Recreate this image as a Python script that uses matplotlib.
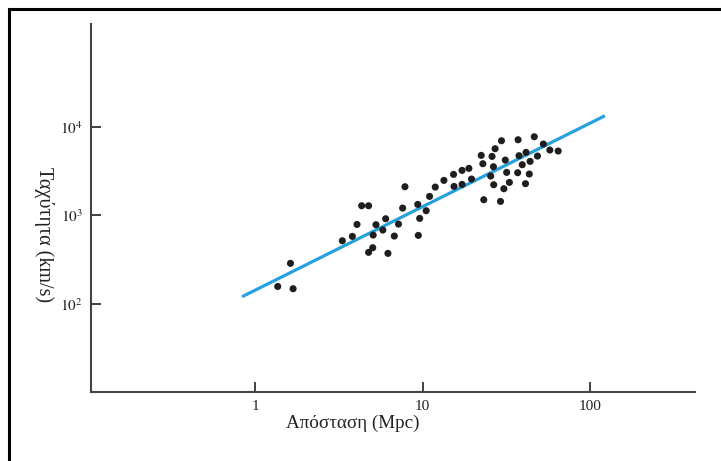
import matplotlib
matplotlib.use("Agg")
from matplotlib import pyplot as plt
from matplotlib.lines import Line2D
import numpy as np

# distance (Mpc) and velocity (km/s) of the galaxies
dist = [1.36, 1.62, 1.68, 3.31, 3.80, 4.05, 4.32, 4.75, 4.75, 5.03,
        5.06, 5.26, 5.78, 6.01, 6.20, 6.77, 7.17, 7.59, 7.84, 9.35,
        9.42, 9.60, 10.5, 11.0, 11.9, 13.4, 15.3, 15.4, 17.2, 17.2,
        18.9, 19.6, 22.4, 22.9, 23.2, 25.5, 26.0, 26.5, 26.6, 27.1,
        29.2, 29.6, 30.6, 31.2, 31.8, 33.0, 37.2, 37.0, 37.7, 39.4,
        41.2, 41.5, 43.4, 43.9, 46.5, 48.6, 52.7, 57.6, 64.6]
vel = [158, 288, 149, 518, 580, 791, 1285, 1285, 383, 432,
       600, 785, 684, 917, 373, 585, 798, 1210, 2106, 1330,
       595, 925, 1129, 1638, 2087, 2482, 2900, 2122, 3218, 2236,
       3390, 2570, 4750, 3826, 1502, 2778, 4627, 3540, 2218, 5650,
       1438, 6950, 1998, 4207, 3055, 2356, 7130, 3030, 4710, 3728,
       2278, 5130, 2928, 4066, 7710, 4670, 6380, 5460, 5320]

# fitted line end points
fit_d = [0.832, 123]
fit_v = [121, 13300]

xticks = [1, 10, 100]
xticklabels = ["1", "10", "100"]
yticks = [1e2, 1e3, 1e4]
yticklabels = [r"$10^2$", r"$10^3$", r"$10^4$"]

plt.rcParams['font.family'] = ['Liberation Serif', 'DejaVu Serif']
plt.rcParams['mathtext.fontset'] = 'stix'

W, H = 721, 461
fig = plt.figure(figsize=(W / 100, H / 100), dpi=100)
ax = fig.add_axes([91 / W, 1 - 392 / H, (695 - 91) / W, (392 - 24) / H])

ax.plot(fit_d, fit_v, color='#26a0df', lw=2.3, solid_capstyle='butt', zorder=2)
ax.scatter(dist, vel, s=26, color='#1e1e1e', edgecolors='none', zorder=3)

ax.set_xscale('log')
ax.set_yscale('log')
ax.set_xlim(0.104, 425)
ax.set_ylim(10.2, 1.44e5)

ax.set_xticks(xticks)
ax.set_xticklabels(xticklabels)
ax.set_yticks(yticks)
ax.set_yticklabels(yticklabels)
ax.minorticks_off()
ax.tick_params(direction='in', length=7, width=1.3, color='#333333',
               labelsize=11, labelcolor='#222222')
ax.tick_params(axis='x', pad=6)
ax.tick_params(axis='y', pad=6)

for s in ['top', 'right']:
    ax.spines[s].set_visible(False)
for s in ['left', 'bottom']:
    ax.spines[s].set_linewidth(1.5)
    ax.spines[s].set_color('#444444')

fig.text(353 / W, 1 - 423 / H, "Απόσταση (Mpc)", fontsize=13.8,
         ha='center', va='center', color='#222222')
fig.text(44 / W, 1 - 235 / H, "Ταχύτητα (km/s)", fontsize=14.5,
         ha='center', va='center', rotation=270, color='#222222')

# frame of the scanned page
fig.add_artist(Line2D([9 / W, 9 / W], [0, 1 - 9 / H], transform=fig.transFigure,
                      color='black', lw=2.2))
fig.add_artist(Line2D([9 / W, 1], [1 - 9 / H, 1 - 9 / H], transform=fig.transFigure,
                      color='black', lw=2.2))

fig.savefig("out.png", dpi=100)
